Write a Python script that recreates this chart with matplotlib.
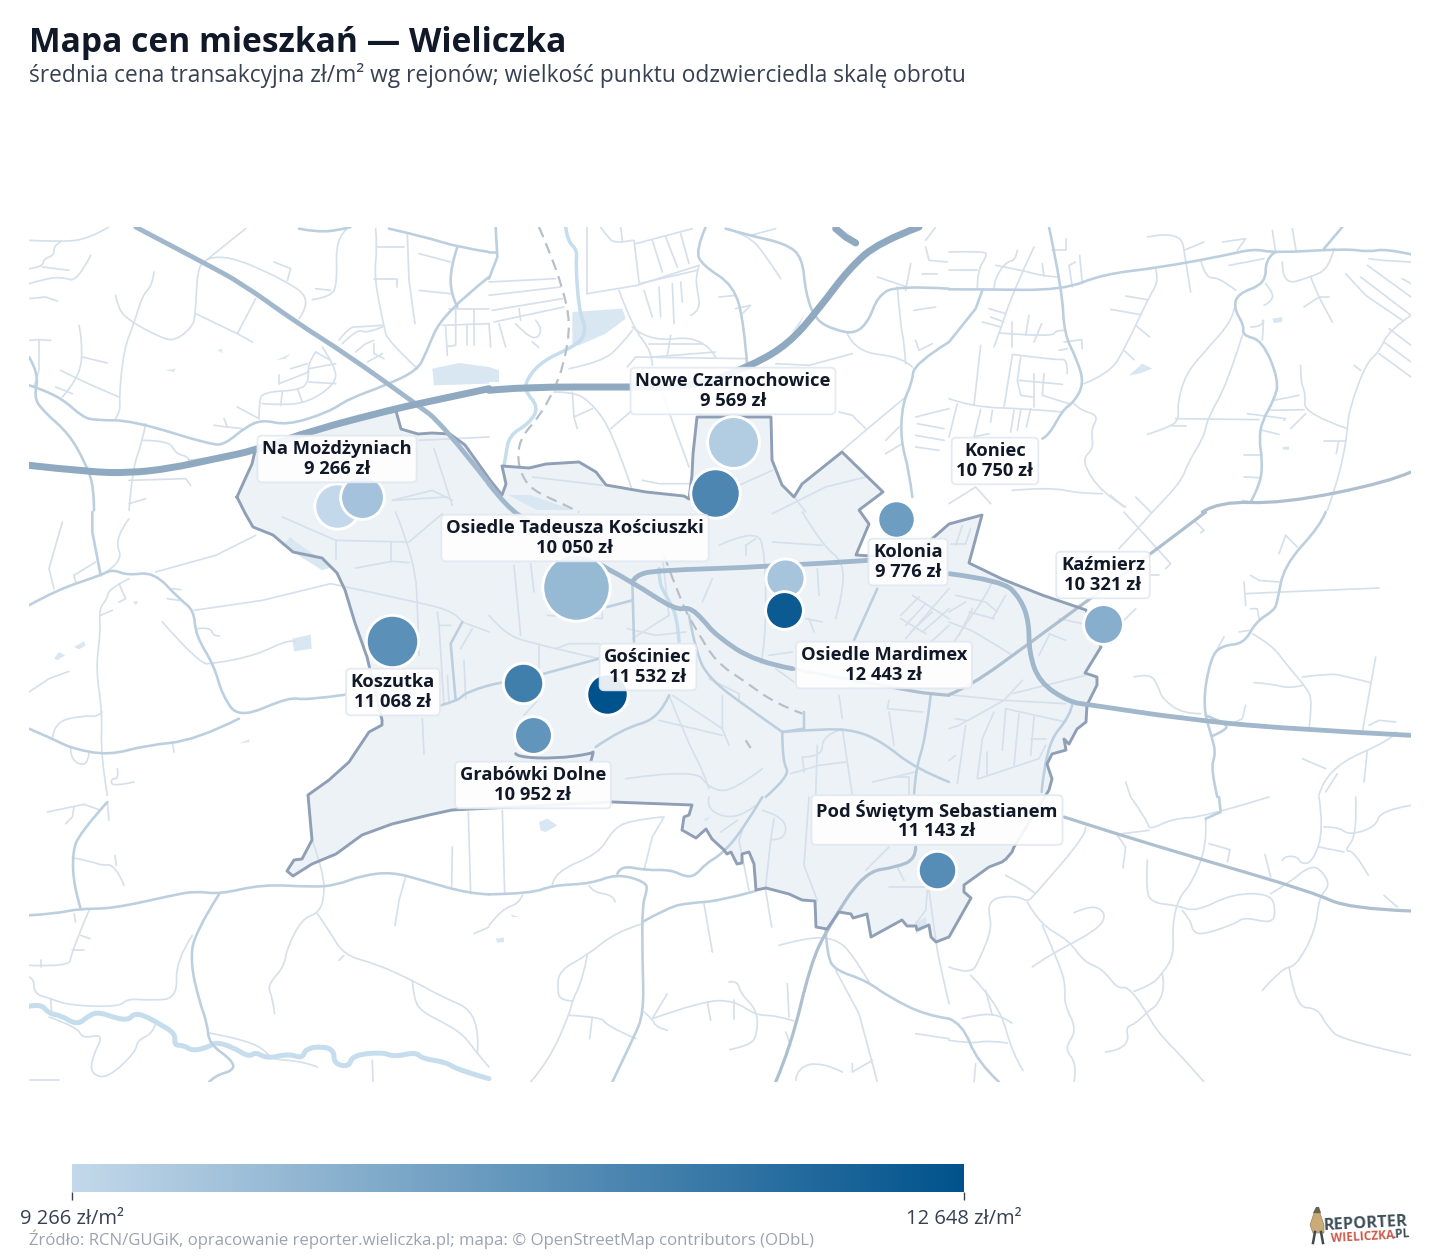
"""
plot.py — Mapa cen mieszkań, Wieliczka
Podkład (drogi, rzeki, granica) przepisany z kadrów mapy: każdy kadr ma własny offset.
"""
import numpy as np
import matplotlib
matplotlib.use("Agg")
import matplotlib.pyplot as plt
from matplotlib.cm import ScalarMappable
from matplotlib.collections import PathCollection
from matplotlib.colors import LinearSegmentedColormap, Normalize
from matplotlib.patches import Polygon
from matplotlib.path import Path

plt.rcParams["font.family"] = ["Open Sans", "Noto Sans", "DejaVu Sans"]

# ============================================================================
# Dane — rejony
# ============================================================================
NAMES = ["Na Możdżyniach", None, "Nowe Czarnochowice", None, "Koniec", "Kolonia",
         "Osiedle Mardimex", "Kaźmierz", "Osiedle Tadeusza Kościuszki", None,
         "Gościniec", "Koszutka", "Grabówki Dolne", "Pod Świętym Sebastianem"]
PRICES = [9266, 9820, 9569, 11312, 10750, 9776, 12443, 10321, 10050, 12648,
          11532, 11068, 10952, 11143]
MAP_X = [337, 361.7, 733, 714.7, 895.7, 784.7, 784.3, 1103.3, 575.7, 607.3,
         523.3, 392.3, 533.3, 937.3]
MAP_Y = [506, 496.7, 441.7, 492.7, 518.7, 578, 610.3, 624.3, 587.3, 693.7,
         683.3, 641.3, 734.7, 870.3]
TURNOVER = [462, 428, 610, 552, 306, 335, 313, 350, 1056, 380, 361, 625, 313, 324]
LABEL_X = [337, None, 733, None, 995, 908, 884, 1103, 575, None, 648, 393, 533, 937]
LABEL_Y = [459, None, 391, None, 461, 562, 665, 575, 538, None, 667, 692, 785, 820]

PRICE_MIN = 9266
PRICE_MAX = 12648

# ============================================================================
# Dane — podkład mapy, współrzędne kadrów (x3) względem offsetu kadru
# ============================================================================
OFFSETS = {"t1": (29, 227), "t2": (489, 227), "t3": (949, 227),
           "t4": (29, 512), "t5": (489, 512), "t6": (949, 512),
           "t7": (29, 797), "t8": (489, 797), "t9": (949, 797)}

MINOR = {
    "t1": [
        [(0,40),(100,45),(180,35),(240,0)], [(95,45),(75,55),(75,85),(45,95),(40,120),(0,125)],
        [(40,120),(120,130)], [(0,170),(50,155),(100,150),(145,165),(185,85)], [(0,215),(50,210),(85,222)],
        [(375,135),(370,175),(340,205),(315,290),(285,365),(270,510),(275,550),(260,575)],
        [(260,205),(265,235),(290,275),(400,335),(440,340),(490,300),(500,260),(505,125),(530,100),(650,5)],
        [(500,260),(625,320),(670,345)], [(625,320),(680,215)], [(150,295),(160,340),(155,450),(100,510)],
        [(160,390),(235,408)], [(95,430),(145,455),(200,480),(270,510)], [(80,480),(130,500)],
        [(0,340),(30,338),(65,340)], [(30,338),(30,430),(15,480)],
        [(530,100),(575,75),(770,160),(850,220),(810,275)], [(735,105),(785,125),(775,160)],
        [(850,218),(905,210),(925,170),(920,30),(960,0)], [(860,185),(905,190)],
        [(1040,5),(1045,60),(1035,150),(1065,300),(1075,340),(1165,425)], [(1045,60),(1125,60)],
        [(1035,155),(1105,155),(1105,180)], [(1135,20),(1140,160),(1158,290)], [(1170,80),(1265,105)],
        [(1170,190),(1265,200)], [(1240,295),(1380,290)], [(1250,300),(1255,385)],
        [(1280,250),(1280,355),(1255,358)], [(1335,250),(1335,355)], [(1315,295),(1315,355)],
        [(1260,245),(1380,245)], [(930,340),(960,300),(990,300),(1060,295)],
        [(940,350),(985,305),(1010,320),(1060,300)], [(980,375),(1010,350),(1035,340)],
        [(1015,405),(1060,380)], [(1035,350),(1035,380),(1065,395)],
        [(860,375),(835,410),(840,465),(810,490),(700,495),(690,530),(690,575)], [(835,410),(785,425)],
        [(880,360),(920,420),(920,470),(840,525),(760,535),(700,530)], [(840,425),(920,410)],
        [(840,465),(920,470)], [(860,375),(905,400)], [(760,495),(755,535)], [(805,485),(820,525)],
        [(750,470),(840,435)], [(750,445),(750,470)], [(625,540),(690,575)],
        [(555,595),(595,600),(640,605)], [(585,575),(595,600)], [(350,590),(340,645),(310,725),(300,850)],
        [(340,640),(420,640),(440,680),(480,690),(480,700)], [(300,760),(470,755),(485,775)],
        [(300,830),(350,815)], [(480,700),(560,690)], [(1090,820),(1210,790),(1270,820)],
        [(1215,665),(1270,835)], [(1170,640),(1380,630)], [(1090,820),(1255,810)],
    ],
    "t2": [
        [(0,165),(200,155)], [(0,205),(215,180)], [(10,250),(220,215)], [(15,285),(225,240)],
        [(90,245),(95,280)], [(0,290),(5,360)], [(30,290),(50,360)],
        [(80,290),(130,345),(165,310),(140,280)], [(130,345),(150,362)], [(295,0),(295,200)],
        [(295,200),(445,175),(630,115)], [(450,170),(625,130)], [(435,40),(450,165)], [(440,50),(610,5)],
        [(490,40),(520,135)], [(530,30),(565,120)], [(575,20),(600,110)],
        [(430,40),(380,50),(355,30),(335,0)], [(395,0),(400,40)], [(465,190),(490,270)],
        [(510,180),(515,270)], [(550,170),(555,290)], [(575,165),(580,225)],
        [(390,190),(430,300),(490,375),(490,415)], [(430,300),(480,345),(640,325),(680,390)],
        [(480,350),(640,350)], [(545,325),(535,385)], [(490,390),(680,375)], [(440,390),(415,420)],
        [(440,390),(770,395)], [(630,115),(620,150),(625,190),(635,250),(605,265)],
        [(690,210),(740,205)], [(740,245),(785,235),(760,260)], [(430,310),(400,350),(340,405),(240,425)],
        [(720,5),(780,30),(820,70),(875,155)], [(785,25),(860,5)], [(1165,150),(1255,180)],
        [(1265,110),(1250,190)], [(1075,320),(1100,375),(1240,390),(1270,420)],
        [(1090,380),(960,415),(860,410)], [(1060,670),(1130,610),(1250,510)],
        [(1225,180),(1235,300),(1245,340),(1250,410)], [(1275,250),(1340,240)], [(1300,140),(1345,140)],
        [(1285,590),(1365,605)], [(1280,625),(1365,640)], [(1280,660),(1350,670)], [(1280,570),(1380,545)],
        [(1190,640),(1230,600)], [(1190,680),(1240,650)], [(365,605),(430,550)],
        [(195,495),(250,495),(300,520),(370,610),(430,790)], [(250,495),(255,570),(265,605)],
        [(255,570),(310,545)], [(520,500),(600,720)], [(460,760),(510,770),(600,770)],
        [(1050,555),(1090,565),(1130,605)], [(750,775),(850,730)], [(130,750),(340,775)],
        [(850,860),(1010,780),(1130,750)], [(920,815),(950,855)], [(1310,60),(1320,100),(1375,105)],
        [(1280,340),(1290,370),(1330,350)], [(1340,0),(1310,40)],
    ],
    "t3": [
        [(0,75),(105,72),(115,85),(85,130),(85,187)], [(0,130),(85,130)],
        [(255,60),(195,187),(150,320),(135,360)], [(140,115),(220,130),(285,148),(330,150)],
        [(205,70),(200,100),(170,105),(135,160),(135,185)], [(280,110),(285,148)],
        [(350,35),(350,70),(310,70)], [(380,105),(360,115),(370,180)], [(392,85),(400,170)],
        [(120,245),(170,260)], [(125,270),(165,285)], [(100,285),(155,300)],
        [(150,318),(310,330),(320,310),(345,310)], [(240,265),(230,325)], [(278,290),(255,345)],
        [(190,285),(190,360)], [(345,345),(398,338),(400,365)], [(355,365),(330,370)],
        [(190,382),(325,400),(355,395),(355,440)], [(95,355),(75,535)],
        [(215,390),(205,460),(215,505)], [(190,385),(165,540)], [(210,460),(340,472)],
        [(285,440),(280,505),(360,530)], [(255,440),(255,540)], [(215,505),(250,510)],
        [(0,515),(70,540),(230,545),(340,555)], [(25,530),(0,630)], [(95,548),(75,630),(120,620)],
        [(130,550),(125,585)], [(195,550),(185,615)], [(215,550),(205,610)], [(245,545),(232,600)],
        [(405,470),(480,440),(525,370),(600,210),(630,160),(620,125)], [(530,207),(595,218)],
        [(485,247),(575,263)], [(560,295),(602,330)], [(525,370),(555,398)],
        [(375,530),(395,550),(450,565),(425,610),(435,665),(395,700),(460,800),(530,840)],
        [(595,30),(695,10),(710,100),(725,195)], [(705,70),(765,45)], [(820,45),(890,35),(865,70)],
        [(595,622),(665,600),(690,575),(685,530),(710,440),(775,365),(850,280),(855,245)],
        [(680,575),(930,578)], [(670,598),(710,598)],
        [(880,325),(835,470),(775,575),(765,630),(715,710),(695,770),(610,855)],
        [(755,100),(770,155),(810,150),(860,190)], [(840,115),(920,100),(945,95)],
        [(950,170),(975,200),(965,225),(945,235)], [(1000,105),(1000,175),(1085,150),(1140,125),(1155,65)],
        [(1085,150),(1110,210),(1150,285)], [(1065,240),(1110,210),(1140,210)],
        [(905,300),(940,300),(945,265),(940,340)], [(1190,140),(1250,205),(1360,280)],
        [(1235,150),(1386,265)], [(1255,115),(1386,210)], [(1360,155),(1386,170)],
        [(1260,95),(1300,100),(1386,105)],
        [(1386,265),(1320,310),(1290,375),(1250,410),(1200,550),(1195,610),(1185,680),(1160,780),(1135,850)],
        [(1320,305),(1386,355)], [(1305,345),(1386,405)], [(1290,380),(1386,450)],
        [(1055,415),(1055,465),(1070,500),(1065,560),(1195,605)], [(975,520),(1050,505)],
        [(965,550),(1065,548)], [(895,560),(1010,575),(1005,580)], [(1070,560),(1025,605)],
        [(940,610),(990,622)], [(885,685),(940,685)], [(885,750),(935,752)], [(1125,642),(1190,642)],
        [(1168,645),(1162,680)], [(1215,415),(1235,430)], [(0,830),(80,780),(125,830)],
        [(190,790),(300,780),(395,800),(460,800)], [(560,810),(605,855)], [(485,805),(525,840)],
        [(970,10),(980,78)], [(1030,5),(1042,75)], [(880,820),(905,825)],
    ],
    "t4": [
        [(495,295),(700,265),(905,215)], [(380,180),(560,130),(680,70)], [(100,30),(60,170),(75,230)],
        [(300,20),(255,80),(285,150),(215,190)], [(135,190),(200,150)], [(135,190),(140,210)],
        [(300,200),(240,230),(235,260),(210,290),(215,360),(200,470),(220,600),(215,730),(235,850)],
        [(270,215),(290,260),(270,270)], [(215,310),(250,295)], [(415,260),(450,265)], [(430,230),(455,233)],
        [(400,330),(510,455),(555,455),(680,430),(785,380),(800,390)],
        [(500,350),(545,345),(552,372),(572,372)], [(0,540),(60,500),(120,478)],
        [(70,680),(75,630),(165,610),(205,615),(220,600)], [(125,710),(125,745),(175,765),(180,725)],
        [(430,690),(435,720)], [(265,770),(270,800),(245,800),(250,825),(315,810)],
        [(760,15),(920,85),(1135,90)], [(920,85),(920,140)], [(1085,90),(1085,150)],
        [(980,168),(1090,148),(1140,152)], [(905,215),(1165,270),(1280,300),(1300,330)],
        [(1100,0),(1135,90),(1160,190),(1165,270),(1170,430)], [(1140,90),(1240,5)],
        [(1225,300),(1230,340),(1265,340)], [(1180,620),(1185,725)], [(1230,340),(1245,580)],
        [(1255,490),(1260,570)], [(1305,445),(1310,560)], [(1300,330),(1380,360)], [(1330,350),(1295,410)],
    ],
    "t5": [
        [(75,160),(95,370)], [(125,155),(135,240)], [(175,310),(340,320),(335,150)],
        [(0,310),(50,370),(140,395),(200,410),(330,440)], [(150,395),(150,560),(105,610)],
        [(200,410),(240,395),(330,395)], [(415,350),(500,370),(590,360)], [(520,130),(540,310),(430,380)],
        [(660,500),(750,545),(750,565)], [(700,550),(700,650),(720,700)],
        [(540,550),(600,700),(640,770),(660,830)], [(550,550),(700,650)], [(510,625),(700,670)],
        [(690,100),(800,50),(830,120),(830,400),(815,455)], [(770,100),(800,80)], [(770,100),(770,130)],
        [(940,0),(1000,100),(1065,150),(1060,250),(1040,320)], [(985,170),(990,250)], [(850,90),(1000,100)],
        [(950,320),(1000,330)], [(960,320),(975,360)], [(840,430),(910,420)], [(860,470),(915,510)],
        [(1235,310),(1290,255)], [(1250,340),(1310,275)], [(1265,360),(1330,300)], [(1270,250),(1380,320)],
        [(1235,320),(1310,365)], [(1250,380),(1380,230)], [(1300,360),(1380,290)], [(1380,340),(1315,400)],
        [(905,785),(990,760),(1070,750)], [(940,735),(1000,735),(1000,670),(1060,650)], [(940,735),(945,780)],
        [(1060,650),(1090,850)], [(985,700),(980,850)], [(1050,550),(1060,620)],
        [(1200,565),(1195,590),(1300,600)], [(1200,600),(1215,700)],
        [(410,800),(620,770),(660,830),(730,840),(820,770)], [(1150,810),(1280,780)],
        [(1220,795),(1260,795),(1260,850)], [(670,200),(640,270)],
    ],
    "t6": [
        [(0,330),(40,345),(80,360),(190,430)], [(130,210),(100,270),(60,320),(15,390)], [(170,250),(130,320)],
        [(60,300),(135,320)], [(20,250),(110,270),(145,300)], [(0,300),(50,270)], [(40,40),(20,100)],
        [(65,50),(50,95)], [(5,95),(50,95)], [(70,290),(30,370)], [(0,548),(165,565),(350,575)],
        [(165,565),(220,505)], [(165,565),(30,640),(0,650)], [(190,545),(410,490)], [(170,590),(160,715)],
        [(210,605),(195,760)], [(255,615),(245,730)], [(170,590),(350,630)], [(245,680),(290,680)],
        [(135,600),(100,680),(85,800)], [(115,720),(115,790)], [(90,800),(270,740),(290,700)],
        [(50,640),(25,815)], [(20,620),(50,625)], [(0,745),(20,730)], [(300,370),(270,430)],
        [(300,365),(350,385)], [(330,320),(400,335)], [(525,0),(665,155),(650,170)],
        [(610,0),(575,40),(510,110)], [(560,290),(525,325)], [(740,30),(765,55),(755,62)],
        [(600,190),(630,190)], [(825,375),(800,420)], [(1010,70),(990,125)], [(1010,70),(1045,105)],
        [(905,190),(930,205),(990,210)], [(885,210),(890,280)], [(890,245),(1000,240),(1290,228)],
        [(905,290),(925,290),(930,320)], [(870,360),(900,355)],
        [(910,365),(970,400),(1010,455),(1075,530),(1090,570),(1080,650)],
        [(915,512),(965,515),(1025,530),(1060,520)], [(1060,495),(1140,485),(1180,490),(1265,512)],
        [(1280,435),(1240,660)], [(1260,640),(1290,625),(1340,630)],
        [(555,495),(605,482),(630,530),(640,560),(700,605),(755,605)], [(890,580),(880,620),(840,640)],
        [(1340,660),(1335,680),(1130,770),(1110,850)], [(1060,740),(1130,770)], [(1165,785),(1130,840)],
        [(1255,715),(1245,810)], [(530,810),(545,855)],
    ],
    "t7": [
        [(55,45),(165,22),(210,38)], [(135,30),(130,60),(110,80)], [(235,15),(240,70)],
        [(130,182),(195,195),(215,205),(260,203),(285,265)], [(258,175),(262,205)],
        [(180,340),(125,470),(123,510),(0,505)], [(135,350),(140,375)], [(155,415),(183,425)],
        [(130,460),(165,460)], [(35,490),(35,510)],
        [(850,130),(885,230),(885,310),(865,350),(820,365),(775,450),(765,510),(715,565),(730,600),(737,650)],
        [(865,350),(900,400),(945,475),(1040,500),(1150,550),(1230,595),(1355,650),(1345,770)],
        [(945,475),(930,490)], [(1130,240),(1110,310),(1098,385)], [(1270,150),(1268,270)],
        [(1318,45),(1325,290)], [(1335,410),(1380,390)],
        [(490,415),(440,490),(445,605),(360,610),(295,605),(270,630),(120,625),(65,605),(15,590),(15,545),(0,540)],
        [(65,605),(68,650)],
        [(60,660),(145,690),(160,725),(225,710),(190,780),(185,830),(235,845),(320,765),(325,730),(370,710),(380,680)],
        [(540,708),(660,730),(720,770),(720,785),(830,795),(865,810)],
        [(1150,550),(1155,610),(1180,645),(1250,680),(1305,715),(1345,770),(1380,810)],
        [(1030,790),(1032,855)], [(0,850),(90,850)],
    ],
    "t8": [
        [(40,40),(47,290)], [(100,295),(90,320),(40,335),(0,385)], [(300,265),(310,285),(375,295),(378,315)],
        [(520,60),(420,70),(370,100),(330,170),(195,225),(190,265)], [(525,60),(490,120),(465,220)],
        [(460,380),(380,405),(295,475),(210,520),(205,580),(215,610),(250,612)],
        [(295,475),(280,550),(250,610),(240,655),(180,790),(125,855)],
        [(240,655),(340,660),(350,685),(440,725)], [(310,660),(302,725)],
        [(465,645),(490,665),(500,690),(535,700)], [(490,665),(640,612),(735,610),(800,655),(860,655),(915,672)],
        [(490,665),(535,590)], [(655,615),(665,670)], [(735,610),(735,665)],
        [(720,555),(745,550),(755,590),(805,640),(805,710),(785,745),(722,758)], [(895,560),(900,660)],
        [(890,705),(905,745)], [(645,320),(670,465)], [(830,280),(848,390)],
        [(870,445),(960,420),(1040,425),(1090,470),(1140,555)], [(1040,520),(1110,650),(1165,855)],
        [(1280,710),(1380,725)], [(920,850),(925,810),(1000,795),(1060,825)],
        [(1090,800),(1090,825),(1150,790)], [(660,0),(650,40),(745,70),(800,25)], [(745,70),(695,105)],
        [(760,100),(750,130),(780,280)], [(820,40),(890,60),(890,130),(845,128)],
        [(855,65),(845,130),(830,270)], [(960,0),(945,205),(985,310)], [(1200,270),(1310,270)],
        [(1315,280),(1310,340),(1280,380)], [(1200,150),(1130,220)], [(1225,210),(1245,250)],
        [(1320,280),(1340,430),(1350,490),(1380,620)],
    ],
    "t9": [
        [(410,90),(415,110),(260,290),(235,315),(210,298),(140,300),(115,330),(130,390),(95,480),(65,535),(0,510)],
        [(170,235),(225,265),(260,290)],
        [(235,315),(270,380),(360,430),(405,495),(460,515),(505,575),(535,568),(580,625),(625,705),(700,780),(765,855)],
        [(280,385),(335,510),(350,570),(345,620),(385,700),(345,755),(385,800),(375,855)],
        [(250,510),(290,480),(480,380),(445,315),(375,347)], [(545,0),(595,70),(600,100),(670,65),(765,60),(960,0)],
        [(600,100),(520,110)], [(505,115),(530,150),(522,212)],
        [(595,190),(590,280),(610,318),(685,325),(740,345),(850,290),(965,290),(980,340),(970,380),(885,360),(860,380),(755,415),(730,400),(725,370),(700,340)],
        [(770,65),(775,145),(725,265),(690,300),(670,380),(675,475),(640,530),(605,565),(555,583)],
        [(780,140),(843,158),(835,195)],
        [(640,530),(648,570),(625,625),(600,640),(560,680),(530,690),(540,730),(510,760),(470,765)],
        [(948,172),(965,240)],
        [(965,290),(1010,265),(1090,200),(1130,235),(1140,270),(1110,300),(1100,400),(1040,510),(1000,512),(940,580)],
        [(1020,510),(1040,632),(1105,632),(1135,690),(1180,730),(1386,775)],
        [(1000,190),(1005,178),(1045,178),(1055,200),(1090,197),(1125,100),(1110,0)],
        [(1125,90),(1170,90),(1200,115),(1280,90),(1295,40),(1386,25)],
        [(1220,0),(1225,110),(1185,165),(1215,160),(1258,235)], [(1110,150),(1185,165)],
        [(1305,295),(1345,330)], [(65,535),(150,620),(190,770),(222,820)], [(110,580),(130,655)],
        [(40,665),(70,655),(150,650),(188,678)], [(0,730),(70,740),(115,730),(175,738)], [(80,800),(75,855)],
    ],
}

MID = {
    "t1": [
        [(0,475),(20,480),(100,515),(160,570),(200,580),(310,580),(550,655),(590,650),(650,600),(700,578),
         (775,595),(900,555),(960,515),(1070,475),(1165,430),(1190,380),(1240,260),(1380,150)],
        [(1080,5),(1190,30),(1285,60),(1380,75)], [(810,5),(860,15),(930,10),(965,0)],
        [(1285,60),(1265,120),(1265,200),(1285,240)],
        [(0,390),(30,440),(15,510),(40,550),(120,620),(170,710),(195,780),(195,850)],
    ],
    "t2": [
        [(650,0),(620,70),(640,115),(735,175),(765,290),(775,420)],
        [(710,5),(780,25),(890,50),(940,90),(950,200),(980,280),(1040,310),(1100,320),(1140,280),(1165,210),
         (1220,175),(1380,185)],
        [(1380,345),(1275,410),(1270,465),(1240,530),(1235,640),(1260,730),(1270,810)],
        [(20,0),(25,90),(0,155)], [(0,75),(20,75)],
    ],
    "t3": [
        [(0,187),(100,187),(340,190),(460,142),(630,122),(830,85),(915,65),(975,78),(1190,65),(1260,75),
         (1310,65),(1386,82)],
        [(300,0),(340,190),(345,320),(385,400),(405,470),(375,525),(340,550),(300,625),(280,635)],
        [(100,190),(80,245),(0,345)],
        [(975,78),(950,95),(950,170),(865,200),(855,245),(885,295),(880,325),(940,340),(990,460),(975,520),
         (940,580),(930,635),(940,700),(935,770),(905,825)],
        [(1180,0),(1125,65)],
    ],
    "t4": [
        [(0,280),(80,235),(215,190),(250,172),(295,190),(375,180),(450,260),(495,295),(500,370),(555,460),
         (580,550),(630,620),(780,555),(830,565),(950,548)],
        [(190,0),(190,60),(215,190)], [(630,620),(500,685),(350,700),(240,730),(130,710),(70,680),(0,650)],
        [(1300,330),(1265,395),(1280,565)], [(1235,580),(1290,565),(1310,540),(1380,520)],
    ],
    "t5": [
        [(430,210),(435,390)], [(355,285),(430,265)], [(0,520),(45,510)], [(165,485),(330,440)],
        [(600,310),(620,420),(660,500),(780,590),(880,660)], [(540,550),(510,620),(400,650),(320,705)],
        [(1165,230),(1095,385)], [(880,660),(945,650),(945,600)], [(880,660),(880,750),(905,790),(830,855)],
        [(880,660),(1000,650),(1100,655),(1180,690),(1280,770),(1380,810)],
        [(1325,550),(1310,680),(1280,770),(1275,850)],
    ],
    "t6": [
        [(370,575),(365,610),(290,700),(278,840)],
        [(1130,0),(1115,40),(1005,160),(985,270),(975,295),(920,330),(885,395),(820,400),(785,435),(760,580),
         (790,680),(800,725),(785,770),(805,855)],
        [(770,610),(835,635),(830,655),(790,672)],
    ],
    "t7": [
        [(0,355),(80,350),(150,335),(250,335),(430,295),(500,282),(570,292),(700,262),(850,270),(920,265),
         (1000,235),(1090,225),(1180,250),(1320,290),(1380,292)],
        [(570,292),(495,410),(485,500),(510,610),(535,680),(540,740),(610,790),(615,820),(560,835),(540,855)],
        [(155,335),(135,270),(130,170),(150,110),(235,15)],
    ],
    "t8": [
        [(0,292),(125,290),(190,265),(305,260),(385,230),(470,255),(475,280),(460,320),(460,480),(465,650),
         (430,730),(370,855)],
        [(385,230),(395,205),(470,220),(545,218),(590,240),(620,235),(650,200),(700,170),(760,100),(820,0)],
        [(460,375),(540,330),(600,318),(690,312),(800,282)],
        [(1010,400),(1015,480),(1040,520),(1130,550),(1200,600),(1310,655),(1380,665)],
    ],
    "t9": [[(810,0),(815,45),(770,65)], [(0,665),(40,680),(85,795),(150,855)]],
}

MAJOR = {
    "t1": [[(320,0),(520,105),(640,170),(800,285),(950,380),(1160,530),(1240,590),(1380,770)]],
    "t5": [
        [(0,-84),(54,-15),(120,30),(355,170)],
        [(355,170),(430,210),(560,295),(600,285),(640,320),(680,370),(800,450),(910,470)],
        [(430,210),(440,190),(500,175),(830,165),(1140,145)],
    ],
    "t6": [
        [(0,185),(160,205),(215,260),(240,330),(240,420),(270,510),(360,570),(420,578),(700,620),(1000,650),(1386,670)],
    ],
}

# jaśniejsze drogi: wschód - południe
EAST_ROAD = {
    "t3": [[(1386,735),(1320,765),(1000,830),(810,823),(760,855)]],
    "t6": [[(770,0),(600,130),(240,395),(60,525),(0,548)]],
    "t5": [[(1380,550),(1325,545),(1280,540),(910,470)]],
    "t8": [[(1280,150),(1280,185),(1225,210),(1125,225),(1015,395),(965,500),(905,750),(860,855)]],
    "t9": [[(345,60),(500,110),(750,185),(1090,285),(1200,335),(1386,342)]],
}

MOTORWAY = {
    "t1": [[(0,715),(180,735),(300,738),(420,725),(560,695),(680,670),(850,610),(1100,545),(1170,530),(1380,485)]],
    "t2": [
        [(0,490),(100,480),(420,480),(620,480),(790,415),(900,350),(990,245),(1080,125),(1170,45),(1290,0)],
        [(1040,5),(1070,30),(1100,48)],
    ],
}

RIVER_THIN = {
    "t2": [[(230,0),(235,40),(265,70),(260,110),(270,250),(290,300),(280,340),(230,370),(165,400),(120,445),
            (105,490),(150,540),(120,590),(60,625),(50,690),(45,715)]],
    "t5": [[(510,170),(510,210),(530,250),(565,310),(570,390)]],
}
RIVER_THICK = {
    "t7": [[(0,628),(35,620),(60,650),(95,655),(145,685),(180,655),(210,645),(265,665),(300,668),(315,650),
            (345,655),(390,680),(440,710),(435,745),(465,745),(490,762),(540,750),(560,735),(610,750),(660,780),
            (680,765),(715,785),(780,770),(820,785),(830,755),(880,748),(915,760),(915,800),(960,810),(970,775),
            (1060,765),(1095,780),(1160,765),(1180,785),(1250,795),(1290,820),(1380,845)]],
}
RAIL = {
    "t2": [[(150,0),(180,70),(220,180),(245,290),(225,410),(195,490),(150,570),(100,625),(85,680),(95,740),
            (130,790),(220,830),(270,855)]],
    "t5": [[(525,130),(580,280),(620,350),(680,450),(770,510),(860,575),(940,605)], [(770,685),(785,708)]],
}

LAKES = {
    "t1": [
        [(1210,425),(1290,408),(1380,420),(1380,470),(1215,475)], [(410,430),(440,425),(435,435)],
        [(740,400),(785,380),(770,395)], [(565,370),(578,365),(580,378)],
    ],
    "t2": [
        [(250,255),(400,245),(410,275),(350,320),(270,355),(250,350)], [(905,320),(945,265),(930,300)],
        [(0,420),(30,430),(30,465),(0,465)],
    ],
    "t3": [
        [(540,445),(580,410),(610,425),(570,440)], [(970,275),(1000,270),(1000,285),(975,288)],
        [(1000,660),(1020,658),(1020,668),(1002,668)],
    ],
    "t4": [
        [(75,440),(90,420),(108,430),(85,445)], [(135,405),(165,388),(170,400),(150,412)],
        [(790,380),(845,368),(848,410),(795,418)], [(760,100),(785,75),(800,90),(910,165),(880,175)],
        [(630,695),(660,682),(662,690)], [(312,268),(328,268),(320,280)],
    ],
    "t8": [
        [(150,75),(175,65),(205,85),(170,105),(155,100)], [(20,425),(45,422),(45,435),(25,437)],
        [(65,352),(90,360),(70,360)], [(645,65),(665,60),(650,75)], [(1280,380),(1310,360),(1315,390),(1280,410)],
    ],
}
# woda przy granicy pod etykietą Osiedle Tadeusza Kościuszki (pełne współrzędne)
POND_X = [508, 530, 573, 537]
POND_Y = [495, 495, 510, 510]

BORDER_X = [237,245,253,273,293,322,337,345,355,367,382,382,369,349,329,308,312,302,294,287,293,
            312,336,362,392,429,452,612,692,689,684,682,696,706,712,724,727,731,737,742,742,749,754,756,
            766,789,802,815,816,827,839,851,853,867,871,902,907,916,917,929,931,936,949,971,964,964,989,
            1002,1006,1012,1014,1049,1052,1047,1052,1066,1064,1069,1077,1086,1087,1097,1097,1085,1101,
            1086,1042,1002,969,982,949,925,900,856,869,859,883,842,802,794,782,772,771,697,693,692,689,
            684,646,606,596,579,546,529,502,506,502,490,465,450,432,418,401,396,350,300,255,252,246]
BORDER_Y = [497,513,527,535,552,558,573,590,623,657,720,725,732,762,780,795,840,859,860,871,876,
            864,854,835,824,815,810,802,805,815,817,830,838,829,839,850,854,852,864,863,854,852,864,890,
            888,894,900,901,927,929,912,914,918,914,937,920,926,926,930,925,937,942,937,898,892,885,867,
            862,859,852,847,790,779,764,754,750,739,744,729,722,705,685,677,673,647,
            610,595,579,563,515,524,545,558,555,524,510,492,452,484,497,485,460,417,417,454,475,499,
            496,492,485,472,462,464,468,466,484,495,480,445,434,433,434,429,411,420,433,451,464,477]
# krótki odcinek granicy nad etykietą Grabówki Dolne
BORDER_EXTRA = {"t5": [[(80,725),(85,735),(200,740),(310,725),(315,715),(305,750)]]}

# ============================================================================
# Figura
# ============================================================================
CMAP = LinearSegmentedColormap.from_list("ceny", ["#c3d8ea", "#00528c"])
NORM = Normalize(PRICE_MIN, PRICE_MAX)

W, H = 1440, 1260
fig = plt.figure(figsize=(W / 100, H / 100), dpi=100, facecolor="white")


def box(x0, y0, x1, y1):
    # prostokąt w pikselach obrazka (y w dół) -> pozycja osi
    return [x0 / W, 1 - y1 / H, (x1 - x0) / W, (y1 - y0) / H]


def to_full(tiles):
    out = []
    for key, lines in tiles.items():
        ox, oy = OFFSETS[key]
        for line in lines:
            out.append([(ox + x / 3, oy + y / 3) for x, y in line])
    return out


def road_path(pts):
    if len(pts) < 4:
        return Path(pts)
    verts, codes = [pts[0]], [Path.MOVETO]
    for a, b in zip(pts[1:-2], pts[2:-1]):
        verts += [a, ((a[0] + b[0]) / 2, (a[1] + b[1]) / 2)]
        codes += [Path.CURVE3, Path.CURVE3]
    verts += [pts[-2], pts[-1]]
    codes += [Path.CURVE3, Path.CURVE3]
    return Path(verts, codes)


ax = fig.add_axes(box(29, 227, 1411, 1082))
ax.set_xlim(29, 1411)
ax.set_ylim(1082, 227)
ax.axis("off")

border_pts = list(zip(BORDER_X, BORDER_Y))
ax.add_patch(Polygon(border_pts, closed=True, facecolor="#edf2f7", edgecolor="none", zorder=1))


def add_lines(tiles, color, lw_px, z, dashes=None, capstyle="round"):
    coll = PathCollection([road_path(p) for p in to_full(tiles)], facecolors="none", edgecolors=color,
                          linewidths=lw_px * 0.72, zorder=z, capstyle=capstyle, joinstyle="round",
                          linestyles=[dashes] if dashes else "solid")
    coll.set_transform(ax.transData)
    ax.add_collection(coll, autolim=False)


for key, polys in LAKES.items():
    ox, oy = OFFSETS[key]
    for p in polys:
        ax.add_patch(Polygon([(ox + x / 3, oy + y / 3) for x, y in p], closed=True,
                             facecolor="#d9e7f2", edgecolor="none", zorder=1.5))
ax.add_patch(Polygon(list(zip(POND_X, POND_Y)), closed=True, facecolor="#d9e7f2", edgecolor="none", zorder=1.5))

add_lines(MINOR, "#d5e0eb", 1.7, 2)
add_lines(RIVER_THIN, "#c6dded", 3.5, 2.1)
add_lines(RIVER_THICK, "#c6dded", 5, 2.1)
add_lines(MID, "#bccfdf", 2.6, 2.2)
add_lines(EAST_ROAD, "#aebfd0", 3.2, 2.3)
add_lines(RAIL, "#b8bfc9", 2.2, 2.4, dashes=(0, (5, 3)), capstyle="butt")

# obrys granicy pod głównymi drogami
ax.plot(BORDER_X + BORDER_X[:1], BORDER_Y + BORDER_Y[:1], color="#8f9fb6", lw=2.9 * 0.72,
        solid_joinstyle="round", zorder=2.5)
add_lines(BORDER_EXTRA, "#8f9fb6", 2.9, 2.5)

add_lines(MAJOR, "#a0b7cc", 4.8, 2.6)
add_lines(MOTORWAY, "#8fa9c0", 7, 2.7)

# ============================================================================
# Punkty i etykiety
# ============================================================================
for x, y, price, turnover in zip(MAP_X, MAP_Y, PRICES, TURNOVER):
    r_px = np.sqrt(turnover)
    ax.scatter(x, y, s=(2 * (r_px + 1.2) * 0.72) ** 2, color=CMAP(NORM(price)),
               edgecolors="white", linewidths=2.9 * 0.72, zorder=5, clip_on=False)

for name, price, lx, ly in zip(NAMES, PRICES, LABEL_X, LABEL_Y):
    if name is None:
        continue
    txt = f"{name}\n{price:,} zł".replace(",", " ")
    ax.text(lx, ly, txt, ha="center", va="center", fontsize=13.2, fontweight="bold", color="#111827",
            linespacing=1.08, zorder=7,
            bbox=dict(boxstyle="round,pad=0.26,rounding_size=0.25", facecolor="white", alpha=0.9,
                      edgecolor="#e2e8f0", linewidth=1.3))

# ============================================================================
# Tytuł, podtytuł, stopka
# ============================================================================
fig.text(29 / W, 1 - 43 / H, "Mapa cen mieszkań — Wieliczka", fontsize=24.15, fontweight="bold",
         color="#111827", va="center", ha="left")
fig.text(29 / W, 1 - 76 / H, "średnia cena transakcyjna zł/m² wg rejonów; wielkość punktu odzwierciedla skalę obrotu",
         fontsize=16.37, color="#374151", va="center", ha="left")
fig.text(29 / W, 1 - 1239 / H, "Źródło: RCN/GUGiK, opracowanie reporter.wieliczka.pl; mapa: © OpenStreetMap contributors (ODbL)",
         fontsize=12.09, color="#9ca3af", va="center", ha="left")

# ============================================================================
# Skala kolorów
# ============================================================================
cax = fig.add_axes(box(72, 1164, 964, 1192))
cb = fig.colorbar(ScalarMappable(norm=NORM, cmap=CMAP), cax=cax, orientation="horizontal",
                  ticks=[PRICE_MIN, PRICE_MAX])
cb.outline.set_visible(False)
cb.ax.set_xticklabels([f"{PRICE_MIN:,} zł/m²".replace(",", " "), f"{PRICE_MAX:,} zł/m²".replace(",", " ")])
cb.ax.tick_params(length=6, width=1, color="#374151", labelsize=14.5, labelcolor="#374151", pad=6)

# ============================================================================
# Logo
# ============================================================================
logo = fig.add_axes(box(1300, 1200, 1420, 1250))
logo.set_xlim(1300, 1420)
logo.set_ylim(1250, 1200)
logo.axis("off")
logo.add_patch(Polygon([(1314,1213),(1320,1213),(1324,1225),(1324,1233),(1313,1233),(1310,1225)],
                       closed=True, facecolor="#c9ab78", edgecolor="#8a7650", linewidth=0.4))
logo.add_patch(Polygon([(1313,1213),(1321,1213),(1319,1207),(1316,1207)], closed=True, facecolor="#6b6250"))
logo.plot([1315, 1313], [1232, 1243], color="#3f4a4f", lw=1.8)
logo.plot([1321, 1323], [1232, 1243], color="#3f4a4f", lw=1.8)
logo.text(1323, 1226, "REPORTER", fontsize=11.8, fontweight="bold", color="#3f4f58", rotation=3,
          ha="left", va="center", rotation_mode="anchor")
logo.text(1331, 1238.5, "WIELICZKA", fontsize=8.6, fontweight="bold", color="#cc5a4a", rotation=3,
          ha="left", va="center", rotation_mode="anchor")
logo.text(1392, 1235, ".PL", fontsize=8.6, fontweight="bold", color="#3f4f58", rotation=3,
          ha="left", va="center", rotation_mode="anchor")

fig.savefig("out.png", dpi=100)
